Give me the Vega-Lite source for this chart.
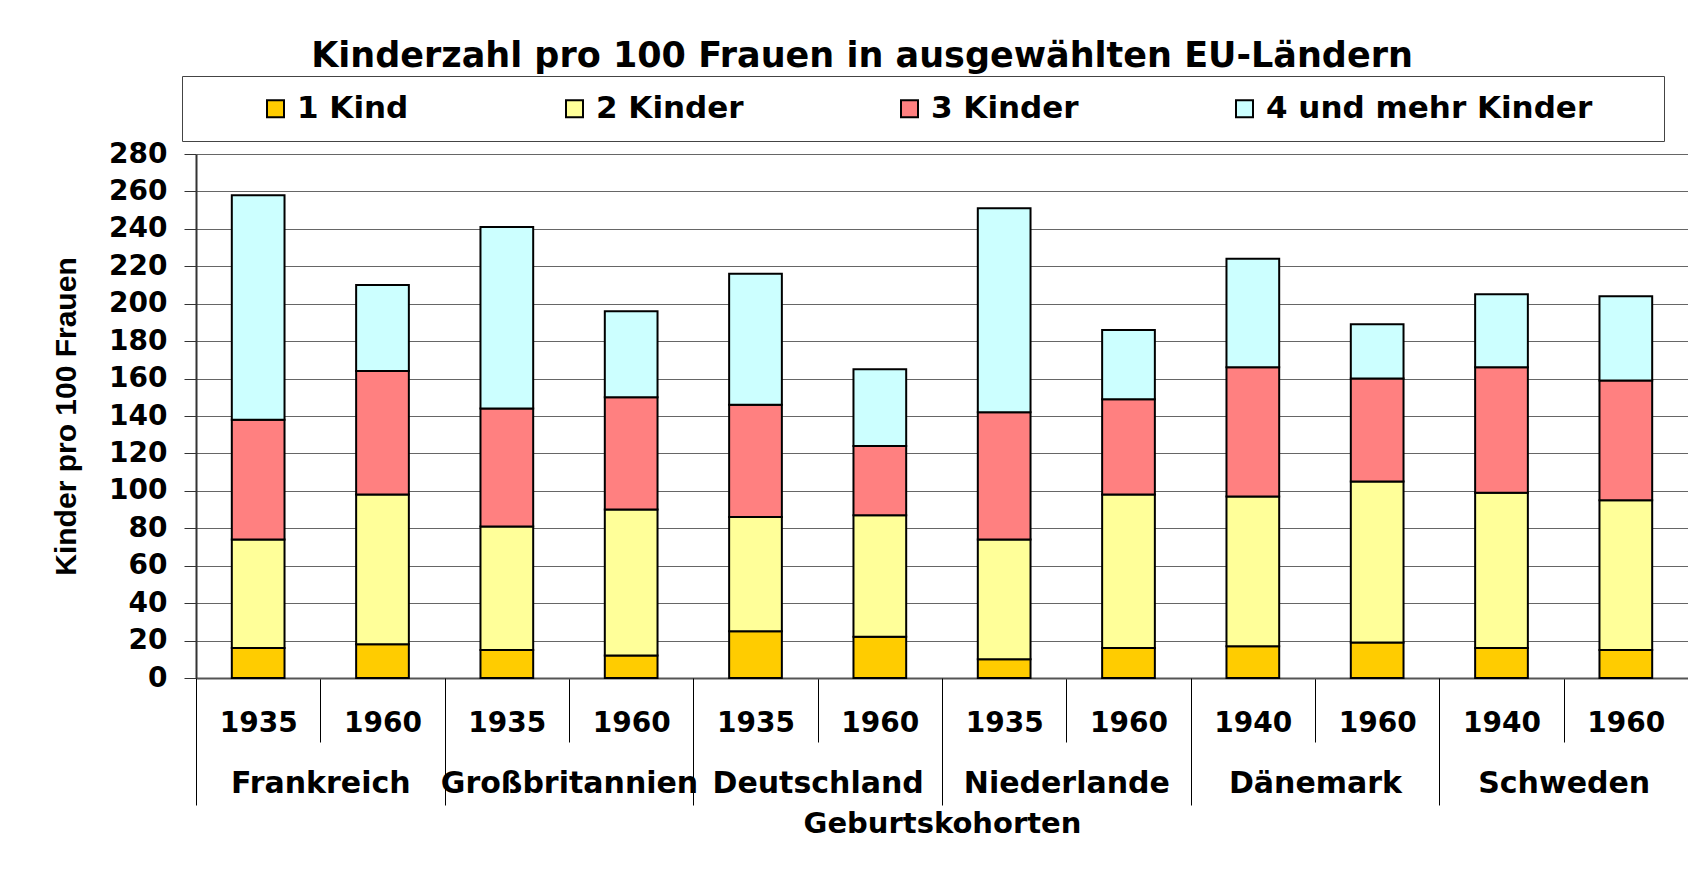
{
  "$schema": "https://vega.github.io/schema/vega-lite/v6.json",
  "width": 1492,
  "height": 524,
  "autosize": {"type": "none"},
  "padding": {"left": 196, "top": 154, "right": 0, "bottom": 205},
  "background": "white",
  "config": {"view": {"stroke": null}, "font": "DejaVu Sans"},
  "title": {
    "text": "Kinderzahl pro 100 Frauen in ausgewählten EU-Ländern",
    "font": "DejaVu Sans", "fontSize": 35, "fontWeight": "bold", "color": "black",
    "anchor": "middle", "dx": -80, "offset": 2
  },
  "data": {"values": [
    {"land": "Frankreich", "kohorte": "Frankreich 1935", "kinder": "1 Kind", "wert": 16},
    {"land": "Frankreich", "kohorte": "Frankreich 1935", "kinder": "2 Kinder", "wert": 58},
    {"land": "Frankreich", "kohorte": "Frankreich 1935", "kinder": "3 Kinder", "wert": 64},
    {"land": "Frankreich", "kohorte": "Frankreich 1935", "kinder": "4 und mehr Kinder", "wert": 120},
    {"land": "Frankreich", "kohorte": "Frankreich 1960", "kinder": "1 Kind", "wert": 18},
    {"land": "Frankreich", "kohorte": "Frankreich 1960", "kinder": "2 Kinder", "wert": 80},
    {"land": "Frankreich", "kohorte": "Frankreich 1960", "kinder": "3 Kinder", "wert": 66},
    {"land": "Frankreich", "kohorte": "Frankreich 1960", "kinder": "4 und mehr Kinder", "wert": 46},
    {"land": "Großbritannien", "kohorte": "Großbritannien 1935", "kinder": "1 Kind", "wert": 15},
    {"land": "Großbritannien", "kohorte": "Großbritannien 1935", "kinder": "2 Kinder", "wert": 66},
    {"land": "Großbritannien", "kohorte": "Großbritannien 1935", "kinder": "3 Kinder", "wert": 63},
    {"land": "Großbritannien", "kohorte": "Großbritannien 1935", "kinder": "4 und mehr Kinder", "wert": 97},
    {"land": "Großbritannien", "kohorte": "Großbritannien 1960", "kinder": "1 Kind", "wert": 12},
    {"land": "Großbritannien", "kohorte": "Großbritannien 1960", "kinder": "2 Kinder", "wert": 78},
    {"land": "Großbritannien", "kohorte": "Großbritannien 1960", "kinder": "3 Kinder", "wert": 60},
    {"land": "Großbritannien", "kohorte": "Großbritannien 1960", "kinder": "4 und mehr Kinder", "wert": 46},
    {"land": "Deutschland", "kohorte": "Deutschland 1935", "kinder": "1 Kind", "wert": 25},
    {"land": "Deutschland", "kohorte": "Deutschland 1935", "kinder": "2 Kinder", "wert": 61},
    {"land": "Deutschland", "kohorte": "Deutschland 1935", "kinder": "3 Kinder", "wert": 60},
    {"land": "Deutschland", "kohorte": "Deutschland 1935", "kinder": "4 und mehr Kinder", "wert": 70},
    {"land": "Deutschland", "kohorte": "Deutschland 1960", "kinder": "1 Kind", "wert": 22},
    {"land": "Deutschland", "kohorte": "Deutschland 1960", "kinder": "2 Kinder", "wert": 65},
    {"land": "Deutschland", "kohorte": "Deutschland 1960", "kinder": "3 Kinder", "wert": 37},
    {"land": "Deutschland", "kohorte": "Deutschland 1960", "kinder": "4 und mehr Kinder", "wert": 41},
    {"land": "Niederlande", "kohorte": "Niederlande 1935", "kinder": "1 Kind", "wert": 10},
    {"land": "Niederlande", "kohorte": "Niederlande 1935", "kinder": "2 Kinder", "wert": 64},
    {"land": "Niederlande", "kohorte": "Niederlande 1935", "kinder": "3 Kinder", "wert": 68},
    {"land": "Niederlande", "kohorte": "Niederlande 1935", "kinder": "4 und mehr Kinder", "wert": 109},
    {"land": "Niederlande", "kohorte": "Niederlande 1960", "kinder": "1 Kind", "wert": 16},
    {"land": "Niederlande", "kohorte": "Niederlande 1960", "kinder": "2 Kinder", "wert": 82},
    {"land": "Niederlande", "kohorte": "Niederlande 1960", "kinder": "3 Kinder", "wert": 51},
    {"land": "Niederlande", "kohorte": "Niederlande 1960", "kinder": "4 und mehr Kinder", "wert": 37},
    {"land": "Dänemark", "kohorte": "Dänemark 1940", "kinder": "1 Kind", "wert": 17},
    {"land": "Dänemark", "kohorte": "Dänemark 1940", "kinder": "2 Kinder", "wert": 80},
    {"land": "Dänemark", "kohorte": "Dänemark 1940", "kinder": "3 Kinder", "wert": 69},
    {"land": "Dänemark", "kohorte": "Dänemark 1940", "kinder": "4 und mehr Kinder", "wert": 58},
    {"land": "Dänemark", "kohorte": "Dänemark 1960", "kinder": "1 Kind", "wert": 19},
    {"land": "Dänemark", "kohorte": "Dänemark 1960", "kinder": "2 Kinder", "wert": 86},
    {"land": "Dänemark", "kohorte": "Dänemark 1960", "kinder": "3 Kinder", "wert": 55},
    {"land": "Dänemark", "kohorte": "Dänemark 1960", "kinder": "4 und mehr Kinder", "wert": 29},
    {"land": "Schweden", "kohorte": "Schweden 1940", "kinder": "1 Kind", "wert": 16},
    {"land": "Schweden", "kohorte": "Schweden 1940", "kinder": "2 Kinder", "wert": 83},
    {"land": "Schweden", "kohorte": "Schweden 1940", "kinder": "3 Kinder", "wert": 67},
    {"land": "Schweden", "kohorte": "Schweden 1940", "kinder": "4 und mehr Kinder", "wert": 39},
    {"land": "Schweden", "kohorte": "Schweden 1960", "kinder": "1 Kind", "wert": 15},
    {"land": "Schweden", "kohorte": "Schweden 1960", "kinder": "2 Kinder", "wert": 80},
    {"land": "Schweden", "kohorte": "Schweden 1960", "kinder": "3 Kinder", "wert": 64},
    {"land": "Schweden", "kohorte": "Schweden 1960", "kinder": "4 und mehr Kinder", "wert": 45}
  ]},
  "layer": [
    {
      "mark": {"type": "bar", "stroke": "black", "strokeWidth": 2, "width": {"band": 0.424}},
      "encoding": {
        "x": {
          "field": "kohorte", "type": "nominal", "sort": null,
          "scale": {
            "domain": ["Frankreich 1935", "Frankreich 1960", "Großbritannien 1935", "Großbritannien 1960", "Deutschland 1935", "Deutschland 1960", "Niederlande 1935", "Niederlande 1960", "Dänemark 1940", "Dänemark 1960", "Schweden 1940", "Schweden 1960"],
            "paddingInner": 0, "paddingOuter": 0
          },
          "axis": {
            "orient": "bottom", "title": null, "labelAngle": 0,
            "labelExpr": "split(datum.label, ' ')[1]",
            "tickBand": "extent", "tickSize": 64, "tickColor": "black", "tickWidth": 1,
            "labelPadding": -33, "labelFont": "DejaVu Sans", "labelFontSize": 28,
            "labelFontWeight": "bold", "labelColor": "black", "labelLimit": 400,
            "labelOverlap": false, "labelBound": false,
            "domainColor": "#555", "domainWidth": 2, "grid": false
          }
        },
        "y": {
          "field": "wert", "type": "quantitative", "stack": "zero",
          "scale": {"domain": [0, 280], "nice": false},
          "axis": {
            "title": "Kinder pro 100 Frauen",
            "titleFont": "Liberation Sans", "titleFontSize": 30, "titleFontWeight": "bold",
            "titleColor": "black", "titlePadding": 27,
            "values": [0, 20, 40, 60, 80, 100, 120, 140, 160, 180, 200, 220, 240, 260, 280],
            "labelFont": "DejaVu Sans", "labelFontSize": 28, "labelFontWeight": "bold",
            "labelColor": "black", "labelPadding": 17,
            "tickSize": 12, "tickColor": "#333", "domainColor": "#333", "domainWidth": 2,
            "grid": true, "gridColor": "#666", "gridWidth": 1
          }
        },
        "color": {
          "field": "kinder", "type": "nominal",
          "scale": {
            "domain": ["1 Kind", "2 Kinder", "3 Kinder", "4 und mehr Kinder"],
            "range": ["#FFCC00", "#FFFF99", "#FF8080", "#CCFFFF"]
          },
          "legend": {
            "title": "\u00a0", "titleOrient": "left", "titleFontSize": 10, "titlePadding": 61,
            "orient": "none", "legendX": -14, "legendY": -78, "direction": "horizontal",
            "columnPadding": 150, "symbolType": "square", "symbolSize": 289,
            "symbolStrokeColor": "black", "symbolStrokeWidth": 2, "symbolOpacity": 1,
            "labelFont": "DejaVu Sans", "labelFontSize": 31, "labelFontWeight": "bold",
            "labelColor": "black", "labelOffset": 6, "labelLimit": 700,
            "labelExpr": "indexof(datum.label, 'mehr') >= 0 ? datum.label + '\u00a0\u00a0\u00a0\u00a0\u00a0\u200b' : datum.label",
            "padding": 17, "strokeColor": "#444", "fillColor": "white"
          }
        },
        "order": {"field": "kinder", "type": "ordinal", "sort": "ascending"}
      }
    },
    {
      "mark": {"type": "bar", "opacity": 0},
      "encoding": {
        "x": {
          "field": "land", "type": "nominal", "sort": null,
          "scale": {
            "domain": ["Frankreich", "Großbritannien", "Deutschland", "Niederlande", "Dänemark", "Schweden"],
            "paddingInner": 0, "paddingOuter": 0
          },
          "axis": {
            "orient": "bottom", "title": "Geburtskohorten",
            "titleFont": "DejaVu Sans", "titleFontSize": 29, "titleFontWeight": "bold",
            "titleColor": "black", "titlePadding": 4,
            "labelAngle": 0, "tickBand": "extent", "tickSize": 127, "tickColor": "black", "tickWidth": 1,
            "labelPadding": -37, "labelFont": "DejaVu Sans", "labelFontSize": 30,
            "labelFontWeight": "bold", "labelColor": "black", "labelLimit": 400,
            "labelOverlap": false, "labelBound": false, "domain": false, "grid": false
          }
        }
      }
    }
  ],
  "resolve": {"scale": {"x": "independent"}, "axis": {"x": "independent"}}
}
